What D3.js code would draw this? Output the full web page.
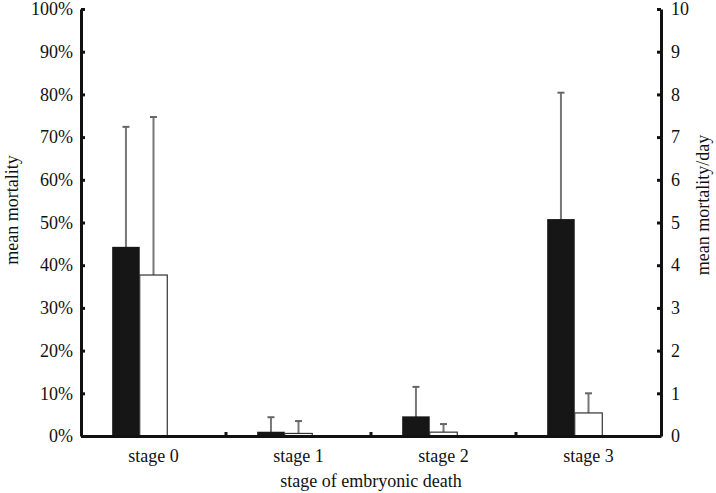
<!DOCTYPE html>
<html>
<head>
<meta charset="utf-8">
<script src="https://cdn.jsdelivr.net/npm/d3@7"></script>
<style>
  body { margin: 0; background: #fff; }
  svg text { font-family: "Liberation Serif", "Times New Roman", serif; fill: #111; }
</style>
</head>
<body>
<svg id="chart" width="716" height="493"></svg>
<script>
// data
var stages = ["stage 0", "stage 1", "stage 2", "stage 3"];
var mortality = [0.443, 0.010, 0.046, 0.508];        // black bars, left axis
var mortalityErr = [0.281, 0.034, 0.069, 0.296];     // +SD
var perDay = [3.77, 0.06, 0.09, 0.54];              // white bars, right axis
var perDayErr = [3.70, 0.29, 0.19, 0.46];
var leftTicks = [0, 0.1, 0.2, 0.3, 0.4, 0.5, 0.6, 0.7, 0.8, 0.9, 1];
var rightTicks = [0, 1, 2, 3, 4, 5, 6, 7, 8, 9, 10];

renderChart();

function renderChart(){
  var svg = d3.select('#chart');
  var left = 81, right = 661, top = 9, bottom = 436;

  var x0 = d3.scaleBand().domain(stages).range([left, right]);
  // three slots per stage, third one is empty in the original
  var x1 = d3.scaleBand().domain([0, 1, 2])
             .range([x0.bandwidth() * 0.215, x0.bandwidth() * 0.785]);
  var yL = d3.scaleLinear().domain([0, 1]).range([bottom, top]);
  var yR = d3.scaleLinear().domain([0, 10]).range([bottom, top]);

  var groups = svg.selectAll('g.stage')
                  .data(stages)
                  .enter()
                  .append('g')
                  .attr('class', 'stage')
                  .attr('transform', d => 'translate(' + x0(d) + ',0)');

  // error bars (drawn first so bars sit on top)
  function errBar(g, xc, yTop){
    g.append('line').attr('x1', xc).attr('x2', xc)
      .attr('y1', yTop).attr('y2', bottom)
      .attr('stroke', '#777').attr('stroke-width', 2);
    g.append('line').attr('x1', xc - 3.5).attr('x2', xc + 3.5)
      .attr('y1', yTop).attr('y2', yTop)
      .attr('stroke', '#666').attr('stroke-width', 2);
  }
  groups.each(function(d, i){
    var g = d3.select(this);
    errBar(g, x1(0) + x1.bandwidth() / 2, yL(mortality[i] + mortalityErr[i]));
    errBar(g, x1(1) + x1.bandwidth() / 2, yR(perDay[i] + perDayErr[i]));
  });

  groups.append('rect')
        .attr('x', x1(0))
        .attr('y', (d, i) => yL(mortality[i]))
        .attr('width', x1.bandwidth())
        .attr('height', (d, i) => bottom - yL(mortality[i]))
        .attr('fill', '#161616');

  groups.append('rect')
        .attr('x', x1(1))
        .attr('y', (d, i) => yR(perDay[i]))
        .attr('width', x1.bandwidth())
        .attr('height', (d, i) => bottom - yR(perDay[i]))
        .attr('fill', '#fff')
        .attr('stroke', '#333')
        .attr('stroke-width', 1.2);

  // axes
  var axL = svg.append('g').attr('transform', 'translate(' + left + ',0)')
    .call(d3.axisLeft(yL).tickValues(leftTicks).tickFormat(d3.format('.0%'))
          .tickSizeInner(-4).tickSizeOuter(0).tickPadding(10));
  var axR = svg.append('g').attr('transform', 'translate(' + right + ',0)')
    .call(d3.axisRight(yR).tickValues(rightTicks).tickFormat(d3.format('d'))
          .tickSizeInner(-4).tickSizeOuter(0).tickPadding(10));
  var axB = svg.append('g').attr('transform', 'translate(0,' + bottom + ')')
    .call(d3.axisBottom(x0).tickSize(0).tickPadding(13));

  // bottom ticks at the band edges, pointing up
  svg.selectAll('line.sep')
     .data(stages.slice(1))
     .enter()
     .append('line')
     .attr('x1', d => x0(d)).attr('x2', d => x0(d))
     .attr('y1', bottom).attr('y2', bottom - 4)
     .attr('stroke', '#111').attr('stroke-width', 3);

  [axL, axR, axB].forEach(function(a){
    a.selectAll('path.domain').attr('stroke', '#111').attr('stroke-width', 3);
    a.selectAll('.tick line').attr('stroke', '#111').attr('stroke-width', 3);
    a.selectAll('text').attr('font-size', 18)
     .attr('font-family', '"Liberation Serif", serif').attr('fill', '#111');
  });
  axL.selectAll('text').attr('dx', 2);

  svg.append('text')
     .attr('x', (left + right) / 2).attr('y', 487)
     .attr('text-anchor', 'middle').attr('font-size', 18)
     .text('stage of embryonic death');

  svg.append('text')
     .attr('transform', 'translate(18,210) rotate(-90)')
     .attr('text-anchor', 'middle').attr('font-size', 18)
     .text('mean mortality');

  svg.append('text')
     .attr('transform', 'translate(709,205) rotate(-90)')
     .attr('text-anchor', 'middle').attr('font-size', 18)
     .text('mean mortality/day');
}
</script>
</body>
</html>
